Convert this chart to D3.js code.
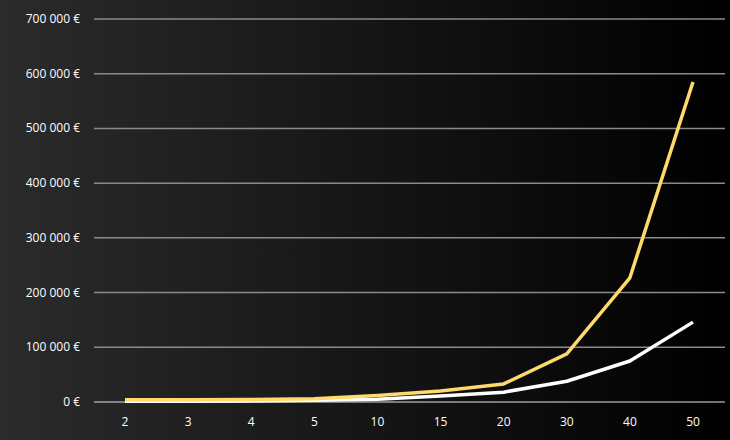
<!DOCTYPE html>
<html><head><meta charset="utf-8">
<script src="https://cdn.jsdelivr.net/npm/d3@7"></script>
<style>body{margin:0;background:#000}</style></head>
<body><svg id="c" width="730" height="440"></svg>
<script>
const categories = ["2","3","4","5","10","15","20","30","40","50"];
const goldValues = [4000,4000,4500,6000,12000,20000,33000,88000,227000,585000];
const whiteValues = [1500,1500,2000,3000,5000,11000,18000,38000,75000,146000];
const yTicks = [0,100000,200000,300000,400000,500000,600000,700000];

const svg = d3.select("#c");
const defs = svg.append("defs");
const g = defs.append("linearGradient").attr("id","bg");
g.append("stop").attr("offset","0%").attr("stop-color","#2b2b2b");
g.append("stop").attr("offset","100%").attr("stop-color","#000");
svg.append("rect").attr("width",730).attr("height",440).attr("fill","url(#bg)");

const x = d3.scalePoint().domain(categories).range([125,693]);
const y = d3.scaleLinear().domain([0,700000]).range([402,19]);
const fmt = v => d3.format(",")(v).replace(/,/g," ") + " €";

svg.selectAll(".grid").data(yTicks).join("line")
  .attr("x1",94).attr("x2",725).attr("y1",d=>y(d)).attr("y2",d=>y(d))
  .attr("stroke",d=>d===0?"#e6e6e6":"#8a8a8a").attr("stroke-width",d=>d===0?1.2:1.5);
svg.selectAll(".yl").data(yTicks).join("text")
  .attr("x",80).attr("y",d=>y(d)+4).attr("text-anchor","end")
  .attr("fill","#fff").attr("font-family","Open Sans, sans-serif").attr("font-size",12)
  .text(fmt);
svg.selectAll(".xl").data(categories).join("text")
  .attr("x",d=>x(d)).attr("y",426).attr("text-anchor","middle")
  .attr("fill","#fff").attr("font-family","Open Sans, sans-serif").attr("font-size",12)
  .text(d=>d);

const line = d3.line().x((d,i)=>x(categories[i])).y(d=>y(d));
svg.append("path").datum(whiteValues).attr("d",line).attr("fill","none")
  .attr("stroke","#fff").attr("stroke-width",3.5).attr("stroke-linejoin","round");
svg.append("path").datum(goldValues).attr("d",line).attr("fill","none")
  .attr("stroke","#ffd96b").attr("stroke-width",3.5).attr("stroke-linejoin","round");
</script></body></html>
